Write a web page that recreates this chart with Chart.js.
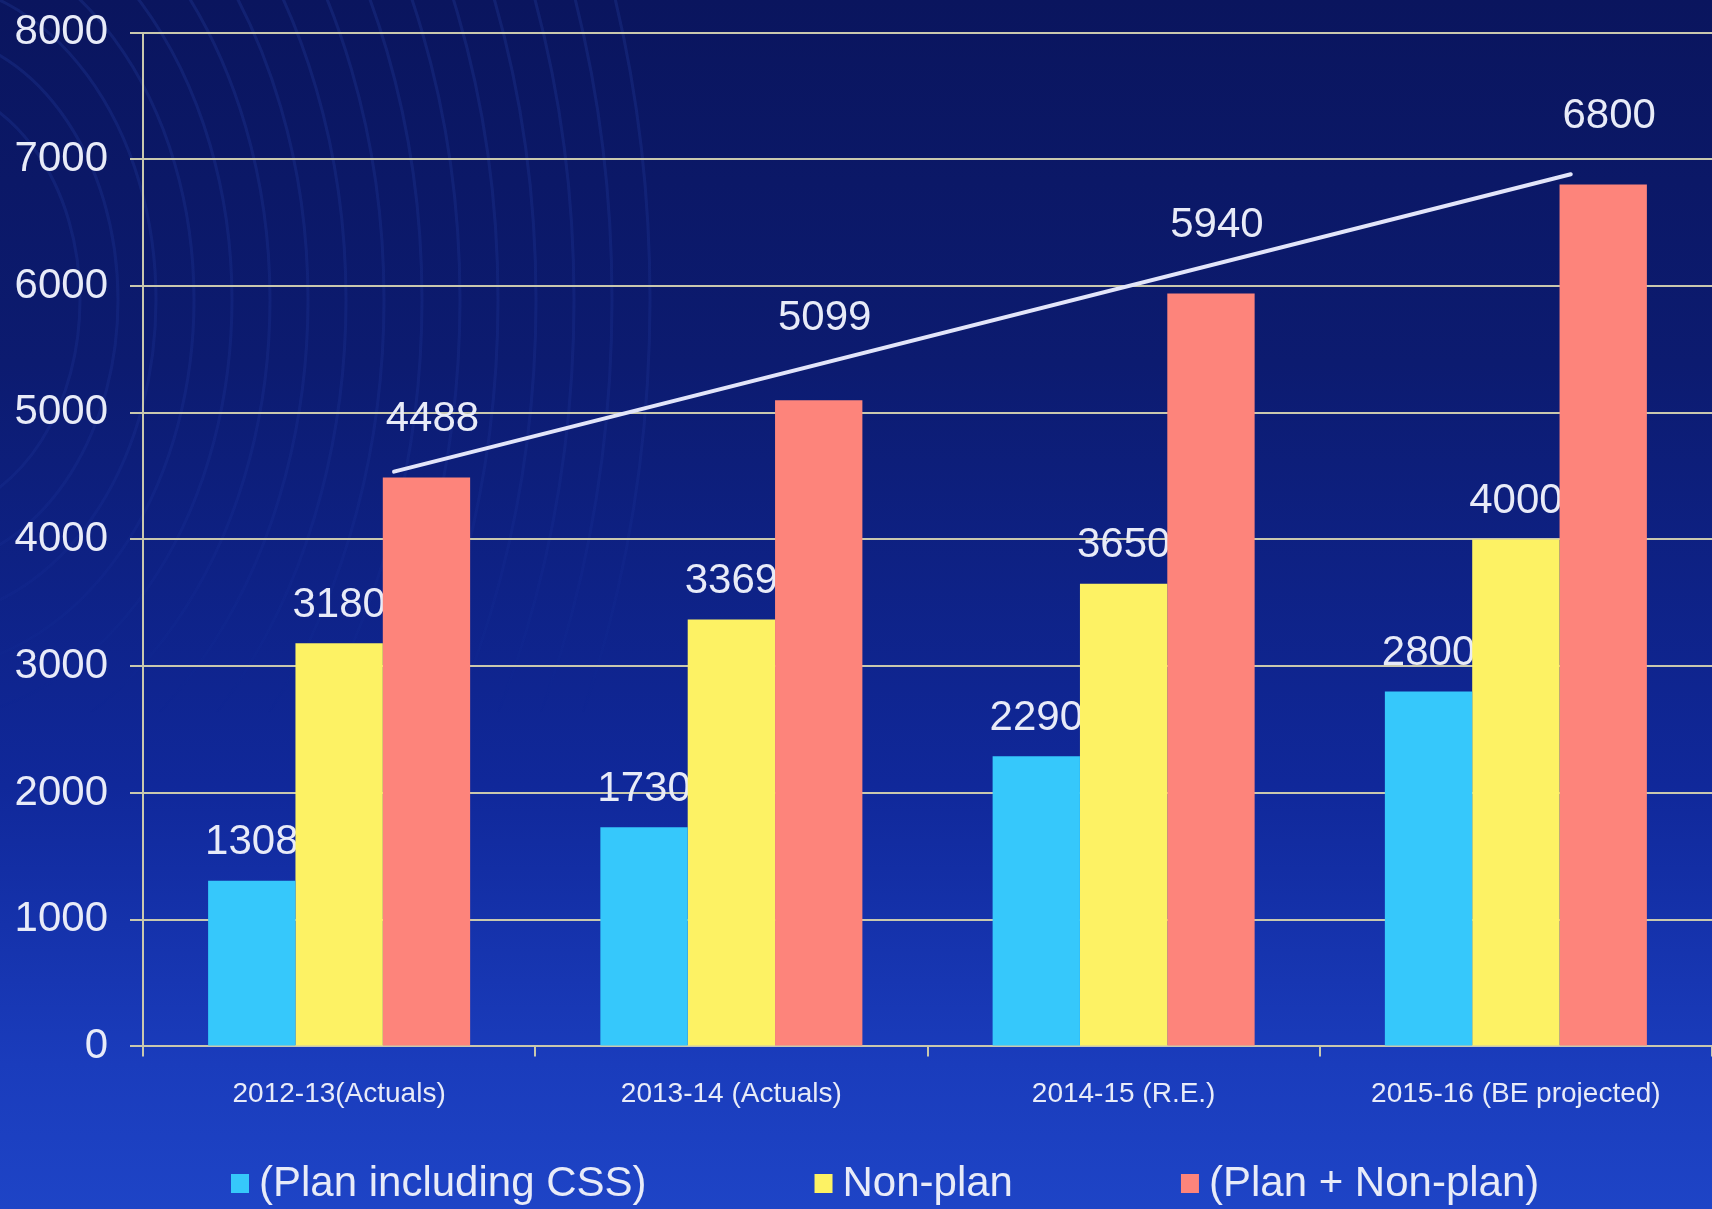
<!DOCTYPE html>
<html>
<head>
<meta charset="utf-8">
<script src="https://cdn.jsdelivr.net/npm/chart.js@4/dist/chart.umd.min.js"></script>
<style>
  html, body { margin: 0; padding: 0; overflow: hidden; }
  #wrap {
    width: 1712px; height: 1209px; position: relative;
    background: linear-gradient(180deg, #0a155e 0%, #0c1b70 30%, #10289a 65%, #1a3cbc 88%, #1e44c6 100%);
  }
</style>
</head>
<body>
<div id="wrap"><canvas id="chart"></canvas></div>
<script>
const years = ['2012-13(Actuals)', '2013-14 (Actuals)', '2014-15 (R.E.)', '2015-16 (BE projected)'];
const seriesNames = ['(Plan including CSS)', 'Non-plan', '(Plan + Non-plan)'];
const planValues = [1308, 1730, 2290, 2800];
const nonPlanValues = [3180, 3369, 3650, 4000];
const totalValues = [4488, 5099, 5940, 6800];
// trend line over the totals, x given in category units
const trendX = [0.14, 3.14];
const trendY = [4535, 6882];
const yTicks = [0, 1000, 2000, 3000, 4000, 5000, 6000, 7000, 8000];

const textColor = '#e8ebf8';
const gridColor = '#c9c8ae';
const font = "'Liberation Sans', Arial, sans-serif";

// faint ripple rings in the background, fading out downwards
const ripples = {
    id: 'ripples',
    beforeDraw(chart) {
        const ctx = chart.ctx;
        ctx.save();
        const fade = ctx.createLinearGradient(0, 0, 0, 900);
        fade.addColorStop(0, 'rgba(80,125,255,0.12)');
        fade.addColorStop(0.45, 'rgba(80,125,255,0.08)');
        fade.addColorStop(0.8, 'rgba(80,125,255,0)');
        ctx.strokeStyle = fade;
        ctx.lineWidth = 3;
        for (let r = 160; r <= 760; r += 38) {
            ctx.beginPath();
            ctx.ellipse(-80, 300, r, r * 1.35, 0, -Math.PI * 0.5, Math.PI * 0.45);
            ctx.stroke();
        }
        ctx.restore();
    }
};

// value labels, drawn before the bars so that the next bar covers them
const valueLabels = {
    id: 'valueLabels',
    beforeDatasetsDraw(chart, args, opts) {
        const ctx = chart.ctx;
        ctx.save();
        ctx.font = '42px ' + font;
        ctx.fillStyle = textColor;
        ctx.textAlign = 'center';
        ctx.textBaseline = 'middle';
        chart.data.datasets.forEach((ds, di) => {
            const meta = chart.getDatasetMeta(di);
            meta.data.forEach((bar, i) => {
                const lift = di === 2 ? opts.totalLift[i] : opts.lift;
                ctx.fillText(String(ds.data[i]), bar.x + (di === 2 ? 6 : 0), bar.y - lift);
            });
        });
        ctx.restore();
    }
};

// straight trend line, placed through the chart's own x and y scales
const trendLine = {
    id: 'trendLine',
    afterDatasetsDraw(chart) {
        const { ctx, scales } = chart;
        ctx.save();
        ctx.strokeStyle = '#e2e5fa';
        ctx.lineWidth = 4;
        ctx.lineCap = 'round';
        ctx.beginPath();
        trendX.forEach((x, i) => {
            const px = scales.x.getPixelForValue(x);
            const py = scales.y.getPixelForValue(trendY[i]);
            if (i === 0) ctx.moveTo(px, py); else ctx.lineTo(px, py);
        });
        ctx.stroke();
        ctx.restore();
    }
};

const bottomLegend = {
    id: 'bottomLegend',
    afterDraw(chart) {
        const ctx = chart.ctx;
        ctx.save();
        ctx.font = '42px ' + font;
        ctx.textBaseline = 'middle';
        let x = 231;
        const y = 1184;
        chart.data.datasets.forEach(ds => {
            ctx.fillStyle = ds.backgroundColor;
            ctx.fillRect(x, y - 10, 18, 19);
            ctx.fillStyle = textColor;
            ctx.fillText(ds.label, x + 28, y);
            x += 28 + ctx.measureText(ds.label).width + 168;
        });
        ctx.restore();
    }
};

const config = {
    type: 'bar',
    data: {
        labels: years,
        datasets: [
            { label: seriesNames[0], data: planValues, backgroundColor: '#36c8fb' },
            { label: seriesNames[1], data: nonPlanValues, backgroundColor: '#fdf264' },
            { label: seriesNames[2], data: totalValues, backgroundColor: '#fd847b' }
        ]
    },
    options: {
        responsive: true,
        maintainAspectRatio: false,
        animation: false,
        layout: { padding: { top: 0, left: 13, right: 0, bottom: 77 } },
        datasets: {
            bar: { categoryPercentage: 0.668, barPercentage: 1.0 }
        },
        scales: {
            x: {
                ticks: { color: textColor, font: { size: 28, family: font }, padding: 21 },
                grid: { display: true, drawOnChartArea: false, tickLength: 10, color: gridColor, lineWidth: 2 },
                border: { display: true, color: gridColor, width: 2 }
            },
            y: {
                min: 0,
                max: 8000,
                afterBuildTicks: axis => { axis.ticks = yTicks.map(v => ({ value: v })); },
                afterFit: axis => { axis.width = 130; },
                ticks: { color: textColor, font: { size: 42, family: font, lineHeight: 0.5 }, padding: 22, callback: v => String(v) },
                grid: { color: gridColor, lineWidth: 2, tickLength: 13 },
                border: { display: true, color: gridColor, width: 2 }
            }
        },
        plugins: {
            legend: { display: false },
            tooltip: { enabled: false },
            valueLabels: { lift: 38, totalLift: [58, 82, 68, 68] }
        }
    },
    plugins: [ripples, valueLabels, trendLine, bottomLegend]
};

new Chart(document.getElementById('chart'), config);
</script>
</body>
</html>
